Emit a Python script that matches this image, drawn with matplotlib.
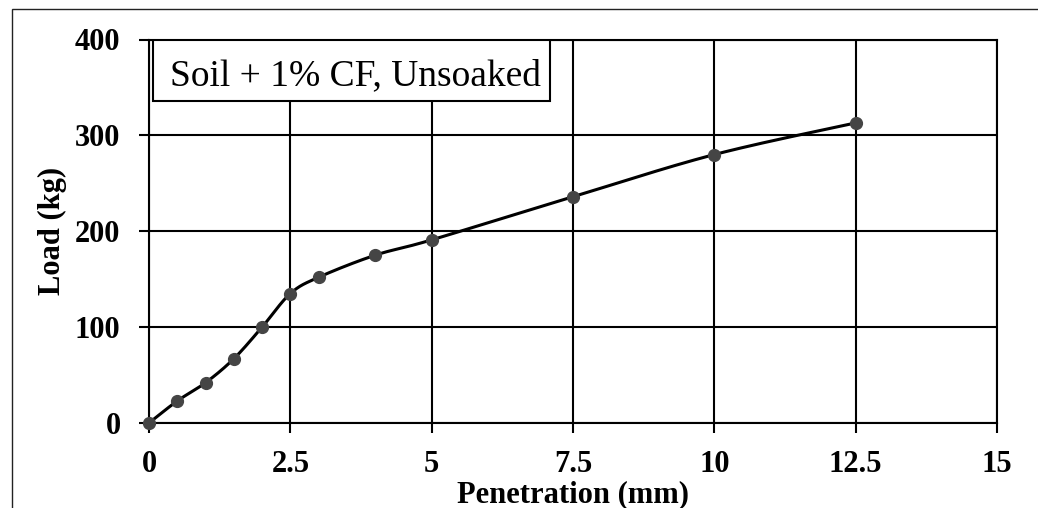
import numpy as np
import matplotlib
matplotlib.use("Agg")
import matplotlib.pyplot as plt
from matplotlib.patches import Rectangle

# ---- data ----
penetration = [0, 0.5, 1.0, 1.5, 2.0, 2.5, 3.0, 4.0, 5.0, 7.5, 10.0, 12.5]
load = [0, 23, 42, 67, 100, 135, 152, 175, 191, 236, 280, 313]
x_ticks = [0, 2.5, 5, 7.5, 10, 12.5, 15]
x_tick_labels = ["0", "2.5", "5", "7.5", "10", "12.5", "15"]
y_ticks = [0, 100, 200, 300, 400]
title_text = "Soil + 1% CF, Unsoaked"
x_label = "Penetration (mm)"
y_label = "Load (kg)"

W, H = 1038, 508
fig = plt.figure(figsize=(W / 100, H / 100), dpi=100)
plt.rcParams['font.family'] = ['Liberation Serif', 'DejaVu Serif']

# outer chart-area border (left and top visible)
fig.patches.append(Rectangle((12 / W, -0.1), 1.2, (H - 9) / H + 0.1,
                             transform=fig.transFigure, fill=False,
                             edgecolor='#222222', linewidth=1.0, zorder=0))

left, right, top, bottom = 149, 997, 39.5, 423
ax = fig.add_axes([left / W, (H - bottom) / H, (right - left) / W, (bottom - top) / H])
ax.set_xlim(0, 15)
ax.set_ylim(0, 400)
ax.set_xticks(x_ticks)
ax.set_xticklabels(x_tick_labels)
ax.set_yticks(y_ticks)
ax.grid(True, color='black', linewidth=1.5)
ax.set_axisbelow(True)
for s in ax.spines.values():
    s.set_linewidth(1.5)
    s.set_color('black')
ax.tick_params(axis='both', direction='out', length=7, width=1.5, labelsize=22)
ax.tick_params(axis='x', pad=12.5)
ax.tick_params(axis='y', pad=13.5)
for lab in ax.get_xticklabels() + ax.get_yticklabels():
    lab.set_fontweight('bold')
ax.set_xlabel(x_label, fontsize=22, fontweight='bold', labelpad=1)
ax.set_ylabel(y_label, fontsize=22, fontweight='bold', labelpad=6)

# smoothed line (Excel-style Catmull-Rom via Bezier, in display space)
pts = ax.transData.transform(np.column_stack([penetration, load]))
n = len(pts)
curve = [pts[0]]
for i in range(n - 1):
    p0 = pts[i - 1] if i > 0 else pts[i]
    p1 = pts[i]
    p2 = pts[i + 1]
    p3 = pts[i + 2] if i + 2 < n else pts[i + 1]
    c1 = p1 + (p2 - p0) / 6.0
    c2 = p2 - (p3 - p1) / 6.0
    t = np.linspace(0, 1, 30)[1:, None]
    seg = ((1 - t) ** 3) * p1 + 3 * ((1 - t) ** 2) * t * c1 + 3 * (1 - t) * t ** 2 * c2 + t ** 3 * p2
    curve.extend(seg)
curve = ax.transData.inverted().transform(np.array(curve))
ax.plot(curve[:, 0], curve[:, 1], color='black', linewidth=2.2, zorder=3, clip_on=False)
ax.plot(penetration, load, linestyle='none', marker='o', markersize=8.5,
        color='#454545', zorder=4, clip_on=False)

# annotation box
bx0 = (152.7 - left) / (right - left)
bx1 = (550 - left) / (right - left)
by0 = (bottom - 100.7) / (bottom - top)
ax.add_patch(Rectangle((bx0, by0), bx1 - bx0, 1 - by0, transform=ax.transAxes,
                       facecolor='white', edgecolor='black', linewidth=1.5, zorder=5))
ax.text((355 - left) / (right - left), (bottom - 85) / (bottom - top), title_text,
        transform=ax.transAxes, ha='center', va='baseline', fontsize=27, zorder=6)

fig.savefig("out.png", dpi=100)
